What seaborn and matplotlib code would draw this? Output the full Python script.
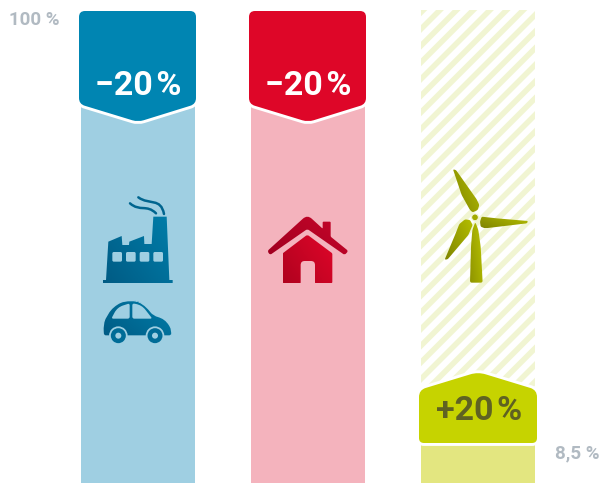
import numpy as np
import pandas as pd
import seaborn as sns
import matplotlib.pyplot as plt
from matplotlib.colors import LinearSegmentedColormap
from matplotlib.patches import Circle, PathPatch
from matplotlib.path import Path

# data
categories = ['Industry and transport', 'Housing', 'Renewables']
full_share = [100, 100, 100]
renewable_share = [0, 0, 8.5]
change_labels = ['\u221220\u200a%', '\u221220\u200a%', '+20\u200a%']
scale_labels = ['100 %', '8,5 %']

pale_colors = ['#9FCFE2', '#F4B3BD', '#FFFFFF']
badge_colors = ['#0085B2', '#DE0628', '#C6D300']
text_colors = ['#FFFFFF', '#FFFFFF', '#5F6222']
GREY = '#B1BAC2'
STRIPE = '#F1F5D2'
LIGHT_GREEN = '#E3E680'

W, H = 602, 483
sns.set_theme(style='white')
plt.rcParams['font.family'] = ['Roboto', 'DejaVu Sans']
plt.rcParams['hatch.linewidth'] = 4

fig = plt.figure(figsize=(W / 100, H / 100), dpi=100)
ax = fig.add_axes([0, 0, 1, 1])

df = pd.DataFrame({'cat': categories, 'full': full_share, 'ren': renewable_share})
sns.barplot(data=df, x='cat', y='full', hue='cat', palette=pale_colors, width=0.67,
            legend=False, ax=ax, saturation=1)
sns.barplot(data=df, x='cat', y='ren', color=LIGHT_GREEN, width=0.67, ax=ax, saturation=1)
for p in ax.patches:
    p.set_linewidth(0)

# third column is striped
striped = ax.patches[2]
striped.set_facecolor('white')
striped.set_edgecolor(STRIPE)
striped.set_hatch('//')

# centres at 138, 308, 478 px, baseline at the bottom edge, 100 at y=10
ax.set_xlim(-138 / 170, (W - 138) / 170)
ax.set_ylim(0, 100 * H / 473)
ax.axis('off')

# second axes in pixels for the badges and pictograms
ov = fig.add_axes([0, 0, 1, 1], facecolor='none')
ov.axis('off')


def rounded(points, radii):
    verts, codes = [], []
    n = len(points)
    for i, p in enumerate(points):
        p = np.array(p, float)
        a = np.array(points[i - 1], float)
        b = np.array(points[(i + 1) % n], float)
        r = radii[i] if np.ndim(radii) else radii
        p1 = p + (a - p) / np.linalg.norm(a - p) * r
        p2 = p + (b - p) / np.linalg.norm(b - p) * r
        verts += [p1, p, p2]
        codes += [Path.LINETO, Path.CURVE3, Path.CURVE3]
    codes[0] = Path.MOVETO
    verts.append(verts[0])
    codes.append(Path.CLOSEPOLY)
    return Path(verts, codes)


def shift(points, x0, y0, s=3):
    return [(x0 + x / s, y0 + y / s) for x, y in points]


def gradient_fill(path, dark, light, angle=0.6):
    x0, y0 = path.vertices.min(axis=0)
    x1, y1 = path.vertices.max(axis=0)
    xx, yy = np.meshgrid(np.linspace(0, 1, 40), np.linspace(0, 1, 40))
    cmap = LinearSegmentedColormap.from_list('g', [dark, light])
    im = ov.imshow(xx * angle + (1 - yy) * (1 - angle), cmap=cmap, extent=(x0, x1, y1, y0),
                   aspect='auto', vmin=0, vmax=1, zorder=4)
    patch = PathPatch(path, fc='none', ec='none', transform=ov.transData)
    ov.add_patch(patch)
    im.set_clip_path(patch)


# badges
for i, cx in enumerate([138, 308]):
    pts = [(cx - 59, 11), (cx + 58, 11), (cx + 58, 104), (cx, 122), (cx - 59, 104)]
    path = rounded(pts, [6, 6, 6, 6, 6])
    ov.add_patch(PathPatch(path, fc='white', ec='white', lw=4.2, zorder=2))
    ov.add_patch(PathPatch(path, fc=badge_colors[i], ec='none', zorder=3))
    ov.text(cx, 86, change_labels[i], color=text_colors[i], fontsize=24.5, fontweight='bold',
            ha='center', va='center', zorder=5)

pts = [(419, 390), (478, 372), (537, 390), (537, 443), (419, 443)]
path = rounded(pts, [7, 8, 7, 5, 5])
ov.add_patch(PathPatch(path, fc='white', ec='white', lw=4.2, zorder=2))
ov.add_patch(PathPatch(path, fc=badge_colors[2], ec='none', zorder=3))
ov.text(479, 411, change_labels[2], color=text_colors[2], fontsize=24.5, fontweight='bold',
        ha='center', va='center', zorder=5)

ov.text(9, 20, scale_labels[0], color=GREY, fontsize=13.5, fontweight='bold', ha='left', va='center')
ov.text(555, 453, scale_labels[1], color=GREY, fontsize=13.5, fontweight='bold', ha='left', va='center')

# factory
fx, fy = 90, 190
factory = [(48, 270), (55, 155), (95, 138), (97, 165), (117, 165), (118, 155), (162, 138), (163, 162),
           (185, 162), (190, 80), (230, 80), (238, 270), (248, 270), (248, 279), (38, 279), (38, 270)]
gradient_fill(Path(shift(factory, fx, fy) + [shift(factory, fx, fy)[0]]), '#005B84', '#007EAA')
for wx in [67, 108, 149, 190]:
    win = [(wx, 186), (wx + 29, 186), (wx + 29, 215), (wx, 215)]
    ov.add_patch(PathPatch(rounded(shift(win, fx, fy), 1.5), fc='#9FCFE2', ec='none', zorder=5))
for smoke in ([(120, 40), (150, 66), (170, 42), (198, 70)], [(145, 22), (178, 46), (212, 22), (222, 72)]):
    s = shift(smoke, fx, fy)
    ov.add_patch(PathPatch(Path(s, [Path.MOVETO, Path.CURVE4, Path.CURVE4, Path.CURVE4]), fc='none',
                           ec='#00658F', lw=1.8, capstyle='round', zorder=5))

# car
car = [(42, 436), (40, 405), (50, 375), (80, 342), (122, 328), (160, 340), (190, 378), (225, 386),
       (246, 422), (243, 436)]
gradient_fill(rounded(shift(car, fx, fy), [2, 6, 8, 8, 12, 10, 5, 8, 5, 2]), '#005B84', '#007EAA')
for win in ([(64, 386), (82, 352), (119, 340), (119, 386)], [(127, 340), (155, 345), (187, 386), (127, 386)]):
    ov.add_patch(PathPatch(rounded(shift(win, fx, fy), [2, 6, 2, 2]), fc='#9FCFE2', ec='none', zorder=5))
for wx in [85, 195]:
    c = (fx + wx / 3, fy + 437 / 3)
    ov.add_patch(Circle(c, 9.3, fc='#9FCFE2', ec='none', zorder=5))
    ov.add_patch(Circle(c, 7.5, fc='#006C97', ec='none', zorder=6))
    ov.add_patch(Circle(c, 3, fc='#9FCFE2', ec='none', zorder=7))

# house
hx, hy = 250, 200
roof = [(52, 153), (172, 44), (218, 86), (218, 65), (242, 65), (242, 110), (295, 153), (284, 165),
        (172, 87), (60, 165)]
gradient_fill(rounded(shift(roof, hx, hy), [2, 6, 1, 1, 1, 1, 2, 2, 2, 2]), '#A00020', '#C8062A')
body = [(98, 250), (98, 160), (172, 104), (247, 160), (247, 250), (195, 250), (195, 183), (152, 183), (152, 250)]
gradient_fill(rounded(shift(body, hx, hy), [1.5, 1, 2, 1, 1.5, 1, 4, 4, 1]), '#B0021F', '#E00629')

# wind turbine
tx, ty = 420, 160
tower = [(150, 368), (153, 260), (157, 210), (166, 186), (175, 210), (182, 260), (188, 368)]
gradient_fill(rounded(shift(tower, tx, ty), [2, 2, 2, 2, 2, 2, 2]), '#8F9400', '#BAC400')
blades = [[(99, 28), (108, 30), (170, 118), (178, 135), (173, 150), (158, 157), (150, 150), (125, 105)],
          [(324, 183), (321, 190), (195, 205), (182, 200), (180, 185), (185, 170), (230, 175)],
          [(74, 299), (83, 298), (145, 225), (158, 195), (150, 180), (135, 178), (118, 192), (105, 225)]]
for b in blades:
    gradient_fill(rounded(shift(b, tx, ty), 1.2), '#7F8400', '#B4BE00')
ov.add_patch(Circle((tx + 165 / 3, ty + 172 / 3), 3.4, fc='#A2AA00', ec=STRIPE, lw=0.8, zorder=6))

ov.set_xlim(0, W)
ov.set_ylim(H, 0)

plt.savefig('out.png', dpi=100)
